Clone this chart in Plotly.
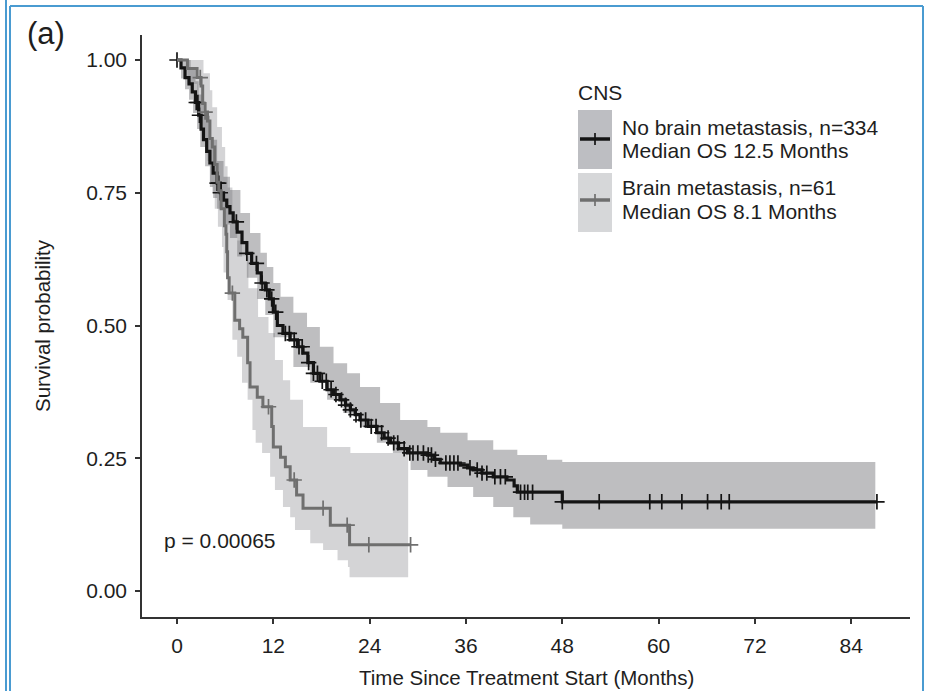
import plotly.graph_objects as go

# ---------------- data ----------------
x_ticks = [0, 12, 24, 36, 48, 60, 72, 84]
y_ticks = [0.0, 0.25, 0.5, 0.75, 1.0]
y_ticktext = ["0.00", "0.25", "0.50", "0.75", "1.00"]

# No brain metastasis (n=334) Kaplan-Meier steps
nb_t = [0, 0.5, 1.0, 1.5, 1.9, 2.3, 2.7, 3.0, 3.3, 3.7, 4.1, 4.5, 5.0, 5.4, 5.8, 6.2, 6.6, 7.0, 7.5, 8.1,
        8.7, 9.3, 10.0, 10.5, 11.0, 11.5, 12.0, 12.5, 13.2, 14.1, 15.0, 15.7, 16.3, 17.0, 17.8, 18.7, 19.5,
        20.3, 21.0, 21.6, 22.2, 22.8, 23.8, 24.9, 25.8, 26.6, 27.6, 28.7, 31.2, 32.0, 32.8, 35.3, 36.2, 36.9,
        38.0, 39.4, 41.1, 42.0, 42.4, 48.0, 87.2]
nb_s = [1.0, 0.985, 0.967, 0.955, 0.94, 0.92, 0.896, 0.87, 0.85, 0.828, 0.806, 0.787, 0.768, 0.75, 0.736,
        0.724, 0.712, 0.695, 0.676, 0.656, 0.636, 0.617, 0.599, 0.58, 0.567, 0.55, 0.525, 0.5, 0.485, 0.473,
        0.46, 0.448, 0.43, 0.41, 0.395, 0.379, 0.37, 0.36, 0.35, 0.341, 0.332, 0.322, 0.31, 0.298, 0.288,
        0.279, 0.268, 0.26, 0.256, 0.248, 0.241, 0.237, 0.232, 0.228, 0.222, 0.215, 0.209, 0.198, 0.186,
        0.168, 0.168]
nb_censor = [0, 2.4, 2.6, 2.8, 5.0, 5.2, 5.4, 7.4, 8.7, 9.9, 10.6, 11.2, 11.8, 12.3, 13.5, 14.0, 14.6, 15.2,
             15.6, 16.4, 17.0, 17.5, 18.1, 18.6, 19.2, 19.8, 20.5, 21.0, 21.6, 22.3, 22.9, 23.5, 24.2, 24.8,
             25.5, 26.3, 27.0, 27.5, 28.3, 29.0, 29.4, 30.0, 30.7, 31.3, 31.7, 32.2, 33.5, 34.0, 34.5, 35.0,
             36.5, 37.4, 38.0, 38.6, 39.6, 40.3, 40.9, 42.8, 43.3, 43.7, 44.3, 48.0, 52.6, 58.9, 60.4, 62.9,
             66.1, 67.8, 68.8, 87.2]
nb_up_t = [0, 1.2, 1.7, 2.3, 2.7, 3.3, 4.1, 5.0, 5.8, 6.6, 7.9, 9.1, 10.4, 11.2, 12.0, 12.9, 14.5, 16.2,
           17.8, 19.5, 21.2, 22.8, 25.3, 27.8, 31.2, 32.8, 36.2, 39.4, 42.4, 46.1, 48.0, 87.0]
nb_up = [1.0, 1.0, 0.985, 0.96, 0.935, 0.895, 0.85, 0.81, 0.78, 0.755, 0.712, 0.674, 0.637, 0.61, 0.58,
         0.554, 0.524, 0.497, 0.46, 0.429, 0.41, 0.384, 0.354, 0.322, 0.309, 0.298, 0.284, 0.266, 0.256,
         0.247, 0.243, 0.243]
nb_lo_t = [0, 0.5, 1.0, 1.5, 2.0, 2.5, 2.9, 3.5, 4.1, 4.5, 5.0, 5.8, 6.6, 7.5, 8.7, 10.0, 11.0, 12.0, 14.5,
           16.6, 18.7, 20.7, 22.8, 24.9, 26.9, 29.1, 31.2, 33.7, 36.9, 39.4, 41.9, 44.0, 48.0, 87.0]
nb_lo = [1.0, 0.965, 0.945, 0.925, 0.9, 0.87, 0.836, 0.80, 0.761, 0.74, 0.72, 0.69, 0.665, 0.63, 0.59,
         0.55, 0.52, 0.478, 0.422, 0.392, 0.36, 0.335, 0.309, 0.279, 0.26, 0.228, 0.215, 0.196, 0.177,
         0.158, 0.139, 0.125, 0.117, 0.117]

# Brain metastasis (n=61)
br_t = [0, 1.3, 2.5, 3.0, 3.2, 3.5, 3.8, 4.1, 4.4, 4.7, 5.0, 5.2, 5.5, 5.9, 6.1, 6.2, 6.3, 6.5, 7.2, 7.8,
        8.2, 8.8, 9.1, 10.0, 10.7, 11.8, 12.0, 12.9, 13.5, 14.1, 14.9, 15.7, 19.1, 21.5, 29.1]
br_s = [1.0, 0.984, 0.967, 0.951, 0.918, 0.902, 0.885, 0.852, 0.836, 0.803, 0.77, 0.754, 0.72, 0.688,
        0.672, 0.639, 0.59, 0.561, 0.51, 0.494, 0.478, 0.43, 0.384, 0.365, 0.347, 0.31, 0.271, 0.252,
        0.234, 0.209, 0.181, 0.156, 0.124, 0.087, 0.087]
br_censor = [2.9, 3.5, 6.9, 11.4, 14.6, 18.2, 21.2, 23.9, 29.1]
br_up_t = [0, 3.0, 3.3, 4.1, 4.4, 5.0, 5.6, 6.0, 6.3, 6.9, 7.5, 8.1, 8.9, 10.1, 11.4, 12.2, 13.2, 14.1,
           15.7, 18.7, 21.6, 28.8]
br_up = [1.0, 1.0, 0.975, 0.943, 0.911, 0.874, 0.836, 0.80, 0.76, 0.70, 0.66, 0.63, 0.57, 0.516, 0.486,
         0.435, 0.397, 0.36, 0.309, 0.271, 0.26, 0.26]
br_lo_t = [0, 1.3, 2.5, 3.0, 3.2, 3.5, 3.8, 4.1, 4.4, 4.7, 5.1, 5.6, 5.8, 6.3, 6.9, 7.5, 8.1, 8.8, 9.4,
           9.8, 10.6, 11.6, 12.2, 13.2, 14.1, 14.7, 16.6, 18.2, 20.0, 21.3, 21.5, 28.8]
br_lo = [1.0, 0.955, 0.92, 0.89, 0.85, 0.83, 0.81, 0.77, 0.75, 0.72, 0.686, 0.648, 0.60, 0.548, 0.473,
         0.441, 0.392, 0.36, 0.303, 0.279, 0.26, 0.215, 0.19, 0.158, 0.139, 0.115, 0.09, 0.077, 0.058,
         0.045, 0.026, 0.026]

legend_title = "CNS"
legend_labels = [["No brain metastasis, n=334", "Median OS 12.5 Months"],
                 ["Brain metastasis, n=61", "Median OS 8.1 Months"]]
p_text = "p = 0.00065"
x_title = "Time Since Treatment Start (Months)"
y_title = "Survival probability"
panel_label = "(a)"


def surv_at(times, surv, t):
    val = surv[0]
    for ti, si in zip(times, surv):
        if ti <= t:
            val = si
    return val


# ---------------- styles ----------------
FONT = "Liberation Sans, Arial, Helvetica, sans-serif"
TXT = "#1e1e1e"
AX = "#333333"
DARK_BAND = "rgba(96,97,102,0.41)"
LIGHT_BAND = "rgba(96,97,102,0.27)"
BLACK = "#141414"
GRAY = "#6f6f6f"
BLUE = "#4a9bd1"

W, H = 926, 691
L, R, T, B = 142, 910, 35, 617  # plot area in px


def px(xp):
    return (xp - L) / (R - L)


def py(yp):
    return (B - yp) / (B - T)


fig = go.Figure()

# confidence bands
fig.add_trace(go.Scatter(x=br_lo_t, y=br_lo, mode="lines", line=dict(width=0, shape="hv"),
                         hoverinfo="skip", showlegend=False))
fig.add_trace(go.Scatter(x=br_up_t, y=br_up, mode="lines", line=dict(width=0, shape="hv"),
                         fill="tonexty", fillcolor=LIGHT_BAND, hoverinfo="skip", showlegend=False))
fig.add_trace(go.Scatter(x=nb_lo_t, y=nb_lo, mode="lines", line=dict(width=0, shape="hv"),
                         hoverinfo="skip", showlegend=False))
fig.add_trace(go.Scatter(x=nb_up_t, y=nb_up, mode="lines", line=dict(width=0, shape="hv"),
                         fill="tonexty", fillcolor=DARK_BAND, hoverinfo="skip", showlegend=False))

# survival curves
fig.add_trace(go.Scatter(x=nb_t, y=nb_s, mode="lines", line=dict(color=BLACK, width=3.2, shape="hv"),
                         showlegend=False))
fig.add_trace(go.Scatter(x=nb_censor, y=[surv_at(nb_t, nb_s, t) for t in nb_censor], mode="markers",
                         marker=dict(symbol="cross-thin", size=11, color=BLACK,
                                     line=dict(color=BLACK, width=1.7)), showlegend=False))
fig.add_trace(go.Scatter(x=br_t, y=br_s, mode="lines", line=dict(color=GRAY, width=3, shape="hv"),
                         showlegend=False))
fig.add_trace(go.Scatter(x=br_censor, y=[surv_at(br_t, br_s, t) for t in br_censor], mode="markers",
                         marker=dict(symbol="cross-thin", size=11, color=GRAY,
                                     line=dict(color=GRAY, width=1.7)), showlegend=False))

shapes = []
# frame (blue border)
for (x0, y0, x1, y1) in [(6, 0, 6, 691), (10, 6, 10, 691), (10, 6, 923, 6), (923, 6, 923, 691)]:
    shapes.append(dict(type="line", xref="paper", yref="paper", x0=px(x0), y0=py(y0), x1=px(x1), y1=py(y1),
                       line=dict(color=BLUE, width=2)))

# manual legend keys
key_boxes = [(110, 169, "#bdbec2", BLACK, 139), (173, 232, "#d6d7d9", GRAY, 200)]
for (yt, yb, fc, lc, ly) in key_boxes:
    shapes.append(dict(type="rect", xref="paper", yref="paper", x0=px(578), x1=px(612), y0=py(yb), y1=py(yt),
                       fillcolor=fc, line=dict(width=0)))
    shapes.append(dict(type="line", xref="paper", yref="paper", x0=px(580), x1=px(610), y0=py(ly), y1=py(ly),
                       line=dict(color=lc, width=3.5)))
    shapes.append(dict(type="line", xref="paper", yref="paper", x0=px(595), x1=px(595), y0=py(ly - 6),
                       y1=py(ly + 6), line=dict(color=lc, width=1.7)))

annotations = []
annotations.append(dict(text=legend_title, xref="paper", yref="paper", x=px(576), y=py(93), xanchor="left",
                        yanchor="middle", showarrow=False, font=dict(family=FONT, size=21, color=TXT)))
for (lines, ys) in zip(legend_labels, [(128, 150), (188, 211)]):
    for txt, yy in zip(lines, ys):
        annotations.append(dict(text=txt, xref="paper", yref="paper", x=px(620), y=py(yy), xanchor="left",
                                yanchor="middle", showarrow=False, font=dict(family=FONT, size=21, color=TXT)))
annotations.append(dict(text=p_text, xref="x", yref="y", x=-1.9, y=0.096, xanchor="left", yanchor="middle",
                        showarrow=False, font=dict(family=FONT, size=21, color=TXT)))
annotations.append(dict(text=x_title, xref="paper", yref="paper", x=0.5, y=py(677), xanchor="center",
                        yanchor="middle", showarrow=False, font=dict(family=FONT, size=20.5, color=TXT)))
annotations.append(dict(text=y_title, xref="paper", yref="paper", x=px(42), y=py(326), xanchor="center",
                        yanchor="middle", textangle=-90, showarrow=False,
                        font=dict(family=FONT, size=20.5, color=TXT)))
annotations.append(dict(text=panel_label, xref="paper", yref="paper", x=px(46), y=py(33), xanchor="center",
                        yanchor="middle", showarrow=False, font=dict(family=FONT, size=31, color=TXT)))

fig.update_layout(
    width=W, height=H, autosize=False,
    margin=dict(l=L, r=W - R, t=T, b=H - B, pad=0),
    paper_bgcolor="white", plot_bgcolor="white",
    shapes=shapes, annotations=annotations, showlegend=False,
)
fig.update_xaxes(range=[-4.36, 91.32], tickvals=x_ticks, ticktext=[str(v) for v in x_ticks],
                 ticks="outside", ticklen=5, tickwidth=1.5, tickcolor=AX, ticklabelstandoff=4,
                 showline=True, linecolor=AX, linewidth=1.5, showgrid=False, zeroline=False,
                 tickfont=dict(family=FONT, size=21, color=TXT))
fig.update_yaxes(range=[-0.0490, 1.0471], tickvals=y_ticks, ticktext=y_ticktext,
                 ticks="outside", ticklen=5, tickwidth=1.5, tickcolor=AX, ticklabelstandoff=4,
                 showline=True, linecolor=AX, linewidth=1.5, showgrid=False, zeroline=False,
                 tickfont=dict(family=FONT, size=21, color=TXT))

fig.write_html("out.html")
